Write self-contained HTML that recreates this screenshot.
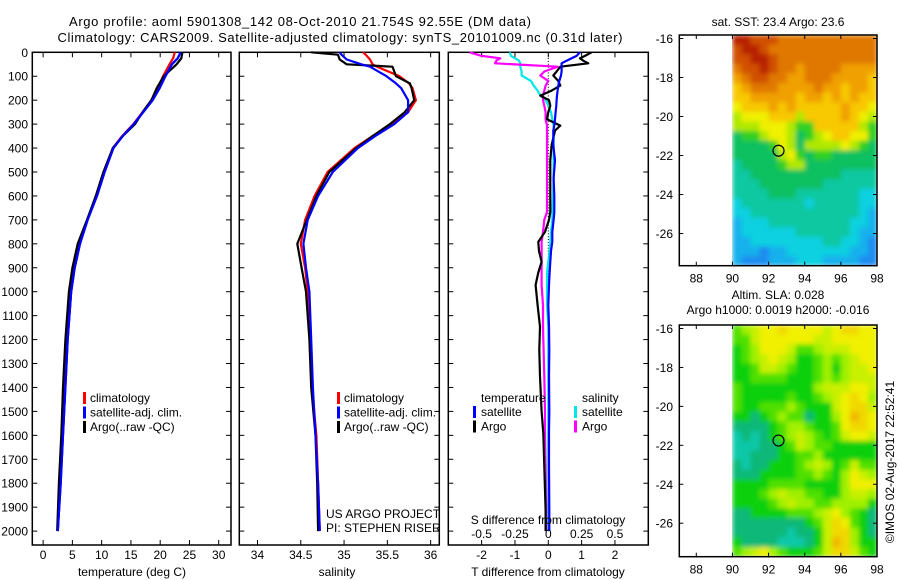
<!DOCTYPE html>
<html><head><meta charset="utf-8"><style>
html,body{margin:0;padding:0;background:#fff;}
svg{display:block;font-family:"Liberation Sans",Arial,sans-serif;}
text{fill:#000;}
</style></head><body>
<svg id="fig" width="900" height="580" viewBox="0 0 900 580">
<defs>
<filter id="smooth" x="0" y="0" width="1" height="1"><feGaussianBlur stdDeviation="2.5" edgeMode="duplicate"/></filter>
<clipPath id="clipTop"><rect x="732" y="35" width="145" height="230"/></clipPath>
<clipPath id="clipBot"><rect x="732" y="325" width="145" height="231"/></clipPath>
</defs>
<text x="300" y="26" font-size="13" text-anchor="middle" textLength="462">Argo profile: aoml 5901308_142 08-Oct-2010 21.754S 92.55E (DM data)</text>
<text x="340" y="42" font-size="13" text-anchor="middle" textLength="565">Climatology: CARS2009. Satellite-adjusted climatology: synTS_20101009.nc (0.31d later)</text>
<g id="g"></g>
</svg>
<script>
// ---------- data ----------
const depthT = [0,25,50,100,150,200,250,300,350,400,500,600,700,800,900,1000,1200,1400,1600,1800,2000];
const tempClim = [22.5,22.2,21.6,20.5,19.6,18.5,17.0,15.4,13.5,11.9,10.4,9.1,7.6,6.2,5.3,4.7,4.1,3.7,3.3,2.9,2.5];
const tempSat  = [23.5,23.0,22.0,20.9,19.9,18.7,17.1,15.5,13.6,12.0,10.5,9.2,7.6,6.3,5.4,4.8,4.2,3.8,3.4,3.0,2.5];
const tempArgo = [23.8,23.6,22.8,20.6,19.4,18.5,17.0,15.7,13.6,11.9,10.3,9.0,7.5,5.9,5.0,4.4,3.8,3.4,3.1,2.7,2.4];

const depthS = [0,10,30,50,60,100,130,150,200,250,300,350,400,500,600,700,800,900,1000,1200,1400,1600,1800,2000];
const salClim = [35.22,35.25,35.30,35.33,35.38,35.64,35.75,35.79,35.83,35.74,35.55,35.33,35.12,34.81,34.66,34.55,34.50,34.55,34.58,34.61,34.63,34.68,34.70,34.72];
const salSat  = [34.95,34.97,35.03,35.20,35.30,35.49,35.60,35.66,35.74,35.74,35.58,35.36,35.16,34.87,34.70,34.58,34.53,34.56,34.60,34.62,34.64,34.67,34.70,34.72];
const salArgo = [34.62,34.93,34.95,35.03,35.56,35.60,35.76,35.78,35.81,35.70,35.53,35.33,35.14,34.83,34.68,34.57,34.46,34.51,34.56,34.60,34.62,34.67,34.69,34.70];

const depthD = [0,15,25,35,46,60,80,97,120,139,160,181,200,223,250,280,306,327,388,452,526,600,667,700,750,792,830,875,920,972,1056,1146,1243,1354,1500,1590,1730,1911,2000];
const dTsat  = [0.95,0.85,0.70,0.55,0.40,0.40,0.40,0.38,0.33,0.30,0.28,0.26,0.25,0.24,0.22,0.20,0.18,0.15,0.15,0.20,0.16,0.18,0.18,0.16,0.12,0.12,0.08,0.06,0.04,0.02,0.00,0.02,0.03,0.02,0.03,0.02,0.02,0.03,0.03];
const dTargo = [1.30,1.10,0.95,1.05,1.20,0.36,0.25,0.15,0.30,0.36,0.10,-0.24,0.02,0.06,0.00,-0.04,0.36,0.20,0.10,0.06,0.06,0.06,0.06,0.02,-0.10,-0.30,-0.28,-0.20,-0.30,-0.38,-0.32,-0.25,-0.27,-0.25,-0.20,-0.15,-0.12,-0.08,-0.08];
const dSsat  = [-0.29,-0.28,-0.25,-0.22,-0.21,-0.21,-0.20,-0.20,-0.13,-0.11,-0.08,-0.06,-0.02,0.00,0.02,0.03,0.04,0.04,0.04,0.04,0.04,0.035,0.03,0.03,0.02,0.015,0.01,0.0,-0.01,-0.01,-0.01,0.0,0.0,0.0,0.0,0.0,0.0,0.0,0.0];
const dSargo = [-0.59,-0.50,-0.36,-0.39,-0.40,0.07,-0.03,-0.06,0.00,-0.02,-0.03,-0.04,-0.04,-0.03,-0.02,-0.02,-0.01,-0.01,-0.01,-0.01,-0.01,-0.01,-0.01,-0.03,-0.04,-0.05,-0.05,-0.05,-0.05,-0.05,-0.04,-0.04,-0.035,-0.03,-0.025,-0.025,-0.02,-0.015,-0.015];

const depthTicks = [0,100,200,300,400,500,600,700,800,900,1000,1100,1200,1300,1400,1500,1600,1700,1800,1900,2000];
const tempTicks = [0,5,10,15,20,25,30];
const salTicks = [34,34.5,35,35.5,36];
const salTickLabels = ["34","34.5","35","35.5","36"];
const dTTicks = [-2,-1,0,1,2];
const dSTicks = [-0.5,-0.25,0,0.25,0.5];
const dSTickLabels = ["-0.5","-0.25","0","0.25","0.5"];
const lonTicks = [88,90,92,94,96,98];
const latTicks = [-16,-18,-20,-22,-24,-26];

// SST map grid: 16 cols (90..98E), 24 rows (-15.8 .. -27.6), hex level codes
const sstRows = [
"CCBBBAAAAAAAAAAA","BCCBAAAAAAAAAAAA","BBCCBAAAAAAAAAAA","ABBCBAA9AAAA9999",
"9ABBAA99AAA99998","89AAA9999A998998","8899999899898988","7888989888889887",
"6777888688889876","6667776558888865","4556776456788775","4444576466667654",
"4444467545544444","3444456644444444","3344444444443333","3334444444333333",
"3333444333333322","2333333323333322","2233333333333321","1222333333333221",
"1222222333333211","1122222222332210","1110112222222110","1000111222111100"];
const sstColors = ["#1e8cf0","#18b0ec","#0cd0e0","#0cc8a0","#10c060","#30d020","#b0e800","#f0f000","#f8c800","#f0a000","#e07800","#d05000","#b82000"];

const slaRows = [
"3456676666567766","3356666665566666","2346665334555666","2345654223434566",
"2235543223424556","2233332223434555","3222222224555665","3222223223456764",
"3223334322256775","2212343312246876","1111234432236776","0101234543235665",
"0001123543322222","0011122334222222","1011222345423533","1112222334324654",
"2222333322224666","2223454433224554","2222345443344442","1122223334564321",
"1111111123576321","1111110112577421","2111100012587422","3456432223577532"];
const slaColors = ["#10c8a8","#10b878","#10d010","#50e000","#a0f000","#c8f000","#f0f000","#f0d800","#f0b800"];

// ---------- helpers ----------
const NS="http://www.w3.org/2000/svg";
const G=document.getElementById('g');
function el(tag,attrs,parent){const e=document.createElementNS(NS,tag);for(const k in attrs)e.setAttribute(k,attrs[k]);(parent||G).appendChild(e);return e;}
function txt(x,y,s,attrs,parent){const t=el('text',Object.assign({x:x,y:y,'font-size':12},attrs||{}),parent);t.textContent=s;return t;}

const TOP=52.3, BOT=545, DPX=0.2394;
const yD=d=>TOP+d*DPX;

function panel(name,x0,x1,xmin,xmax){
  const gp=el('g',{});
  
  
  const r=el('rect',{x:x0,y:TOP,width:x1-x0,height:BOT-TOP,fill:'none',stroke:'#000','stroke-width':1.5},gp);
  
  
  const sx=v=>x0+(v-xmin)/(xmax-xmin)*(x1-x0);
  depthTicks.forEach(d=>{
    el('line',{x1:x0,y1:yD(d),x2:x0+5,y2:yD(d),stroke:'#000'},gp);
    el('line',{x1:x1-5,y1:yD(d),x2:x1,y2:yD(d),stroke:'#000'},gp);
  });
  return {g:gp,sx:sx,x0:x0,x1:x1};
}
function xticks(p,ticks,labels,ly){
  ticks.forEach((v,i)=>{
    const x=p.sx(v);
    el('line',{x1:x,y1:BOT,x2:x,y2:BOT-5,stroke:'#000'},p.g);
    el('line',{x1:x,y1:TOP,x2:x,y2:TOP+5,stroke:'#000'},p.g);
    const t=txt(x,ly,labels?labels[i]:String(v),{'text-anchor':'middle'},p.g);
    
    
  });
}
function line(p,xs,ds,color,name,xf){
  const pts=xs.map((v,i)=>(p.sx(xf?xf(v):v)).toFixed(1)+','+yD(ds[i]).toFixed(1)).join(' ');
  const l=el('polyline',{points:pts,fill:'none',stroke:color,'stroke-width':2.2,'stroke-linejoin':'round'},p.g);
  
  
}
function legendMark(x,y,color,parent){el('rect',{x:x,y:y-10,width:3,height:12,fill:color},parent);}

depthTicks.forEach(d=>{
  const t=txt(28,yD(d)+4.5,String(d),{'text-anchor':'end'});
  
  
});

// Panel 1 temperature
const p1=panel('temperature-panel',32.3,231,-1.85,32.1);
xticks(p1,tempTicks,null,559);
line(p1,tempClim,depthT,'#ff0000','temp-climatology-line');
line(p1,tempSat,depthT,'#0000ff','temp-satellite-line');
line(p1,tempArgo,depthT,'#000000','temp-argo-line');
line(p1,tempSat,depthT,'#0000ff','temp-satellite-line-top');
txt(132,576,'temperature (deg C)',{'text-anchor':'middle'},p1.g);
[['climatology','#f00'],['satellite-adj. clim.','#00f'],['Argo(..raw -QC)','#000']].forEach((e,i)=>{
  legendMark(83,402+i*14.5,e[1],p1.g);
  const t=txt(90,402+i*14.5,e[0],{},p1.g);
  
  
});

// Panel 2 salinity
const p2=panel('salinity-panel',239.3,439.3,33.79,36.1);
xticks(p2,salTicks,salTickLabels,559);
line(p2,salClim,depthS,'#ff0000','sal-climatology-line');
line(p2,salArgo,depthS,'#000000','sal-argo-line');
line(p2,salSat,depthS,'#0000ff','sal-satellite-line');
txt(337,576,'salinity',{'text-anchor':'middle'},p2.g);
[['climatology','#f00'],['satellite-adj. clim.','#00f'],['Argo(..raw -QC)','#000']].forEach((e,i)=>{
  legendMark(337,402+i*14.5,e[1],p2.g);
  const t=txt(344,402+i*14.5,e[0],{},p2.g);
  
  
});
txt(326,518,'US ARGO PROJECT',{},p2.g);
txt(326,532,'PI: STEPHEN RISER',{},p2.g);

// Panel 3 differences
const p3=panel('difference-panel',448.3,648.3,-3,3);
for(let d=0; d<2000; d+=12){el('rect',{x:p3.sx(0)-0.5,y:yD(d),width:1,height:1,fill:'#000'},p3.g);}
xticks(p3,dTTicks,null,559);
const sScale=v=>v*4;
line(p3,dSsat,depthD,'#00e8e8','sal-diff-satellite-line',sScale);
line(p3,dSargo,depthD,'#ff00ff','sal-diff-argo-line',sScale);
line(p3,dTargo,depthD,'#000000','temp-diff-argo-line');
line(p3,dTsat,depthD,'#0000ff','temp-diff-satellite-line');
dSTicks.forEach((v,i)=>{
  const t=txt(p3.sx(sScale(v)),538,dSTickLabels[i],{'text-anchor':'middle'},p3.g);
  
  
});
txt(548,524,'S difference from climatology',{'text-anchor':'middle'},p3.g);
txt(548,576,'T difference from climatology',{'text-anchor':'middle'},p3.g);
txt(481,402,'temperature',{},p3.g);
txt(582,402,'salinity',{},p3.g);
[['satellite','#00f',473,481],['Argo','#000',473,481],['satellite','#00e8e8',574,582],['Argo','#f0f',574,582]].forEach((e,i)=>{
  const y=416+(i%2)*14.5;
  legendMark(e[2],y,e[1],p3.g);
  const t=txt(e[3],y,e[0],{},p3.g);
  
  
});

// Maps
function map(name,top,bot,latTop,latBot,rows,colors,title,clipId){
  const gm=el('g',{});
  
  
  const X0=679.3,X1=877,lonMin=87.06,lonMax=98;
  const lx=v=>X0+(v-lonMin)/(lonMax-lonMin)*(X1-X0);
  const ly=v=>top+(latTop-v)/(latTop-latBot)*(bot-top);
  const clipG=el('g',{'clip-path':'url(#'+clipId+')'},gm);
  const cells=el('g',{filter:'url(#smooth)'},clipG);
  const nr=rows.length,nc=rows[0].length;
  const latStep=(latTop-latBot)/nr, lonStep=8/nc;
  rows.forEach((row,r)=>{
    for(let c=0;c<nc;c++){
      const v=parseInt(row[c],16);
      const x=lx(90+c*lonStep), y=ly(latTop-r*latStep);
      const cell=el('rect',{x:x.toFixed(2),y:y.toFixed(2),width:(lx(90+(c+1)*lonStep)-x+0.4).toFixed(2),height:(ly(latTop-(r+1)*latStep)-y+0.4).toFixed(2),fill:colors[v]||colors[0]},cells);
      
      
    }
  });
  const fr=el('rect',{x:X0,y:top,width:X1-X0,height:bot-top,fill:'none',stroke:'#000','stroke-width':1.5},gm);
  
  
  lonTicks.forEach(v=>{
    const x=lx(v);
    el('line',{x1:x,y1:bot,x2:x,y2:bot-4,stroke:'#000'},gm);
    el('line',{x1:x,y1:top,x2:x,y2:top+4,stroke:'#000'},gm);
    const t=txt(x,bot+17,String(v),{'text-anchor':'middle'},gm);
    
    
  });
  latTicks.forEach(v=>{
    const y=ly(v);
    el('line',{x1:X0,y1:y,x2:X0+4,y2:y,stroke:'#000'},gm);
    el('line',{x1:X1-4,y1:y,x2:X1,y2:y,stroke:'#000'},gm);
    const t=txt(673,y+4.5,String(v),{'text-anchor':'end'},gm);
    
    
  });
  const c=el('circle',{cx:lx(92.55),cy:ly(-21.754),r:5.5,fill:'none',stroke:'#000','stroke-width':1.2},gm);
  
  
  title.forEach((s,i)=>{
    const t=txt(778,(title.length==1?top-9:top-26+i*15),s,{'text-anchor':'middle'},gm);
    
    
  });
}
map('sst-map',35,265.7,-15.82,-27.65,sstRows,sstColors,['sat. SST: 23.4  Argo: 23.6'],'clipTop');
map('sla-map',325,556.7,-15.82,-27.72,slaRows,slaColors,['Altim. SLA: 0.028','Argo h1000: 0.0019 h2000: -0.016'],'clipBot');

const cp=txt(0,0,'©IMOS 02-Aug-2017 22:52:41',{'text-anchor':'middle',transform:'translate(894,462) rotate(-90)'});


</script>
</body></html>
